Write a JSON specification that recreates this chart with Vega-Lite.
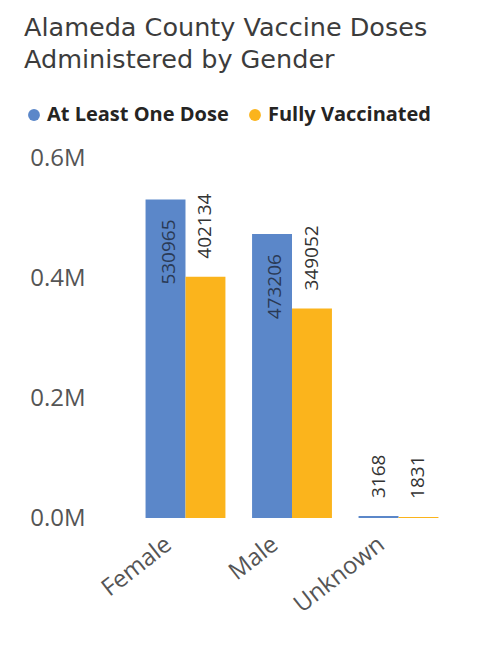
{
  "$schema": "https://vega.github.io/schema/vega-lite/v6.json",
  "width": 360,
  "height": 360,
  "padding": {"left": 24, "top": 15, "right": 10, "bottom": 5},
  "background": "white",
  "title": {
    "text": ["Alameda County Vaccine Doses", "Administered by Gender"],
    "anchor": "start",
    "font": "DejaVu Sans",
    "fontSize": 25.5,
    "fontWeight": "normal",
    "color": "#3c3c3c",
    "lineHeight": 32,
    "offset": 32
  },
  "config": {"view": {"stroke": null}},
  "data": {
    "values": [
      {"gender": "Female", "measure": "At Least One Dose", "value": 530965},
      {"gender": "Female", "measure": "Fully Vaccinated", "value": 402134},
      {"gender": "Male", "measure": "At Least One Dose", "value": 473206},
      {"gender": "Male", "measure": "Fully Vaccinated", "value": 349052},
      {"gender": "Unknown", "measure": "At Least One Dose", "value": 3168},
      {"gender": "Unknown", "measure": "Fully Vaccinated", "value": 1831}
    ]
  },
  "encoding": {
    "x": {
      "field": "gender",
      "type": "nominal",
      "sort": ["Female", "Male", "Unknown"],
      "scale": {"paddingInner": 0.25, "paddingOuter": 0.315},
      "axis": {
        "title": null,
        "labelAngle": -38,
        "labelAlign": "right",
        "labelBaseline": "top",
        "labelFont": "Open Sans",
        "labelFontSize": 24,
        "labelColor": "#555555",
        "labelPadding": 14,
        "labelOffset": -24,
        "domain": false,
        "ticks": false
      }
    },
    "xOffset": {
      "field": "measure",
      "type": "nominal",
      "sort": ["At Least One Dose", "Fully Vaccinated"],
      "scale": {"paddingInner": 0, "paddingOuter": 0}
    },
    "y": {
      "field": "value",
      "type": "quantitative",
      "scale": {"domain": [0, 600000]},
      "axis": {
        "title": null,
        "values": [0, 200000, 400000, 600000],
        "labelExpr": "format(datum.value / 1000000, '.1f') + 'M'",
        "labelFont": "Open Sans",
        "labelFontSize": 24,
        "labelColor": "#555555",
        "labelPadding": 27,
        "grid": false,
        "domain": false,
        "ticks": false
      }
    }
  },
  "layer": [
    {
      "mark": {"type": "bar"},
      "encoding": {
        "color": {
          "field": "measure",
          "type": "nominal",
          "sort": ["At Least One Dose", "Fully Vaccinated"],
          "scale": {"range": ["#5b87c9", "#fbb41c"]},
          "legend": {
            "title": null,
            "orient": "none",
            "direction": "horizontal",
            "legendX": -88,
            "legendY": -53,
            "symbolType": "circle",
            "symbolSize": 140,
            "symbolOpacity": 1,
            "labelFont": "Open Sans",
            "labelFontSize": 20,
            "labelFontWeight": "bold",
            "labelColor": "#252423",
            "labelLimit": 300,
            "columnPadding": 16,
            "labelOffset": 3
          }
        }
      }
    },
    {
      "transform": [{"filter": "datum.value > 450000"}],
      "mark": {
        "type": "text",
        "angle": -90,
        "align": "right",
        "baseline": "middle",
        "dx": -20,
        "dy": 3,
        "font": "Open Sans",
        "fontSize": 19,
        "color": "#2a3a55"
      },
      "encoding": {"text": {"field": "value", "type": "nominal"}}
    },
    {
      "transform": [{"filter": "datum.value <= 450000"}],
      "mark": {
        "type": "text",
        "angle": -90,
        "align": "left",
        "baseline": "middle",
        "dx": 18,
        "font": "Open Sans",
        "fontSize": 19,
        "color": "#333333"
      },
      "encoding": {"text": {"field": "value", "type": "nominal"}}
    }
  ]
}
